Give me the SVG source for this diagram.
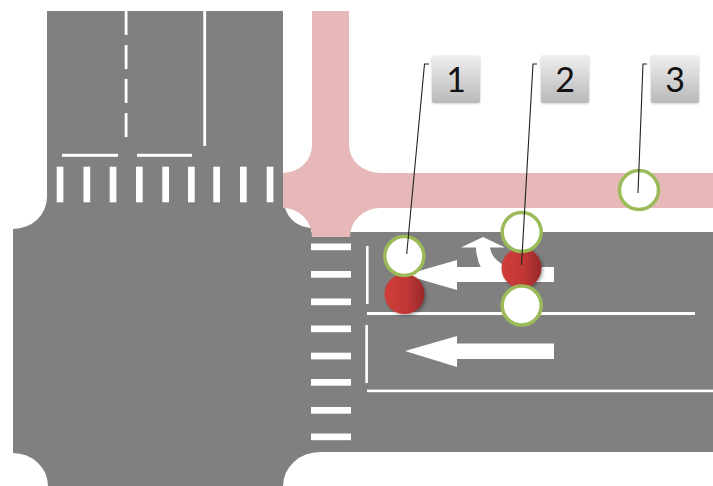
<svg xmlns="http://www.w3.org/2000/svg" width="713" height="486" viewBox="0 0 713 486">
<style>
.mark{fill:#fff}
.sig{fill:#fff;stroke:#9bbb59;stroke-width:3.5}
.red{fill:url(#redGrad);filter:url(#sh)}
.box{fill:url(#boxGrad);filter:url(#boxSh)}
.num{font-family:"Lato","Open Sans",sans-serif;font-size:34px;fill:#111;text-anchor:middle}
.lead{fill:none;stroke:#222;stroke-width:1.1}
</style>
<defs>
<linearGradient id="redGrad" x1="0" x2="1" y1="0" y2="0"><stop offset="0" stop-color="#cf3d3a"/><stop offset="0.55" stop-color="#c23735"/><stop offset="1" stop-color="#98292a"/></linearGradient>
<linearGradient id="boxGrad" x1="0" x2="0" y1="0" y2="1"><stop offset="0" stop-color="#eeeeee"/><stop offset="1" stop-color="#b9b9b9"/></linearGradient>
<filter id="sh" x="-20%" y="-20%" width="150%" height="150%"><feDropShadow dx="1.5" dy="1.5" stdDeviation="1.5" flood-color="#000" flood-opacity=".35"/></filter>
<filter id="boxSh" x="-10%" y="-10%" width="120%" height="120%"><feDropShadow dx="0" dy="0.5" stdDeviation="0.8" flood-color="#000" flood-opacity=".25"/></filter>
</defs>
<g id="road">
<path fill="#808080" d="M47 11H283V208H285Q291 226 311 228V232H713V452H320A37 34 0 0 0 283 486H48A35 33 0 0 0 13 453V229A34 32 0 0 0 47 197Z"/>
<path fill="#e6b8b7" d="M312 11H349V145A31 28 0 0 0 380 173H713V208H380A30 29 0 0 0 350 237H312A29 29 0 0 0 283 208V173A29 28 0 0 0 312 145Z"/>
</g>
<g id="markings" class="mark">
<rect x="124.7" y="11" width="2.8" height="24"/><rect x="124.7" y="45" width="2.8" height="24"/><rect x="124.7" y="79" width="2.8" height="24"/><rect x="124.7" y="113" width="2.8" height="24"/>
<rect x="203.3" y="11" width="2.8" height="135"/>
<rect x="62" y="153.8" width="56" height="3"/><rect x="137" y="153.8" width="55" height="3"/>
<rect x="56.7" y="166.7" width="6.7" height="35.6"/><rect x="83.5" y="166.7" width="6.7" height="35.6"/><rect x="109.7" y="166.7" width="6.7" height="35.6"/><rect x="136" y="166.7" width="6.7" height="35.6"/><rect x="162.3" y="166.7" width="6.7" height="35.6"/><rect x="188" y="166.7" width="6.7" height="35.6"/><rect x="213.3" y="166.7" width="6.7" height="35.6"/><rect x="240" y="166.7" width="6.7" height="35.6"/><rect x="266.7" y="166.7" width="6.7" height="35.6"/>
<rect x="311" y="243.5" width="40" height="6.7"/><rect x="311" y="271" width="40" height="6.7"/><rect x="311" y="298.5" width="40" height="6.7"/><rect x="311" y="325.5" width="40" height="6.7"/><rect x="311" y="352.7" width="40" height="6.7"/><rect x="311" y="379" width="40" height="6.7"/><rect x="311" y="407" width="40" height="6.7"/><rect x="311" y="433.5" width="40" height="6.7"/>
<rect x="366" y="246" width="2.6" height="58"/><rect x="365.3" y="325" width="2.6" height="58"/>
<rect x="367" y="312" width="328" height="3"/><rect x="367" y="389.6" width="346" height="2.6"/>
<path d="M405 275L457 260V267H554V282H457V290Z"/>
<path d="M405 351L457 336V343.5H554V359H457V367Z"/>
<path d="M461 247.5L483 237L505 247.5H490Q491 258 505 266V270H482Q476 258 476 247.5Z"/>
</g>
<g id="signal-red-1"><circle class="red" cx="404.5" cy="294" r="20"/></g>
<g id="signal-red-2"><circle class="red" cx="521.5" cy="268" r="20"/></g>
<g id="signal-1"><circle class="sig" cx="404.3" cy="256" r="19.5"/></g>
<g id="signal-2"><circle class="sig" cx="521.7" cy="232" r="19.5"/></g>
<g id="signal-2b"><circle class="sig" cx="521.7" cy="305.5" r="19.5"/></g>
<g id="signal-3"><circle class="sig" cx="639" cy="190" r="19.5"/></g>
<g id="connectors">
<path class="lead" d="M429 64H424.5L406.7 254"/>
<path class="lead" d="M537 64H533L521.5 265"/>
<path class="lead" d="M647 64H643L638 193"/>
</g>
<g id="label-1"><rect class="box" x="432" y="56" width="48" height="47" rx="2"/><text class="num" x="456" y="92">1</text></g>
<g id="label-2"><rect class="box" x="541" y="56" width="48" height="47" rx="2"/><text class="num" x="565" y="92">2</text></g>
<g id="label-3"><rect class="box" x="651" y="56" width="48" height="47" rx="2"/><text class="num" x="675" y="92">3</text></g>
</svg>
